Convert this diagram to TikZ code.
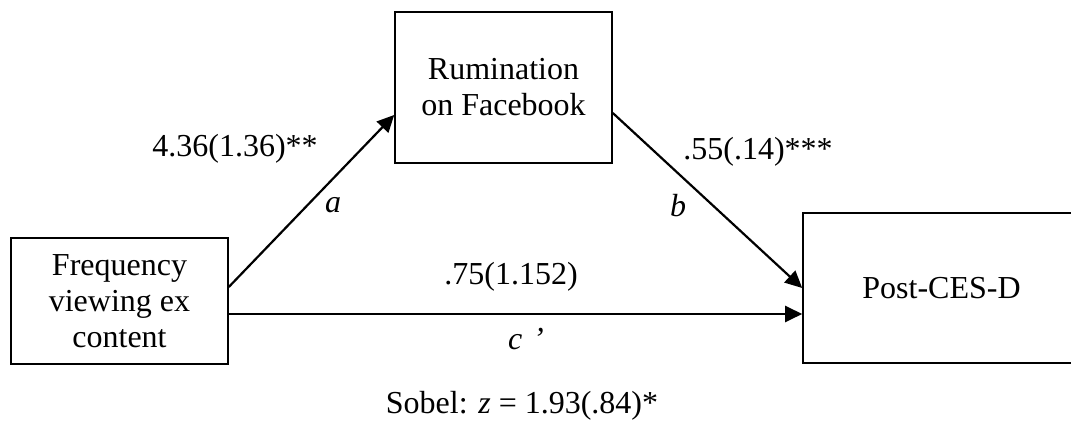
\documentclass[tikz,border=0pt]{standalone}
\usepackage{fontspec}
\setmainfont{Liberation Serif}
\usetikzlibrary{positioning,arrows.meta}

\begin{document}
\begin{tikzpicture}[x=0.5pt,y=-0.5pt,font=\fontsize{16}{18}\selectfont,
  varbox/.style={draw,line width=0.8pt,align=center,inner sep=0pt},
  path/.style={line width=1.1pt,-{Triangle[length=8.5pt,width=8pt]}},
  coef/.style={anchor=base,inner sep=0pt}]
  \useasboundingbox (0,0) rectangle (1071,421);
  % variables
  \node[varbox,minimum width=108.5pt,minimum height=63pt] (freq) at (119.5,301)
    {Frequency\\viewing ex\\content};
  \node[varbox,minimum width=108.5pt,minimum height=75.5pt] (rum) at (503.5,87.5)
    {Rumination\\on Facebook};
  \node[varbox,minimum width=138.5pt,minimum height=75pt] (ces) at (941.5,288)
    {Post-CES-D};
  % paths a, b and c'
  \draw[path] ([yshift=7pt]freq.east) -- ([yshift=-13.75pt]rum.west);
  \draw[path] ([yshift=-12.75pt]rum.east) -- (ces.west);
  \draw[path] ([yshift=-6.5pt]freq.east) -- ([yshift=-13pt]ces.west);
  % coefficients
  \node[coef] (acoef) at (235,157) {4.36(1.36)**};
  \node[coef] (alab) at (333,213) {\textit{a}};
  \node[coef] (bcoef) at (758,160) {.55(.14)***};
  \node[coef] (blab) at (678,217) {\textit{b}};
  \node[coef] (ccoef) at (511,285) {.75(1.152)};
  \node[coef] (clab) at (526,350) {\textit{c\,\,’}};
  \node[coef] (sobel) at (522,414) {Sobel: \textit{z} = 1.93(.84)*};
\end{tikzpicture}
\end{document}
